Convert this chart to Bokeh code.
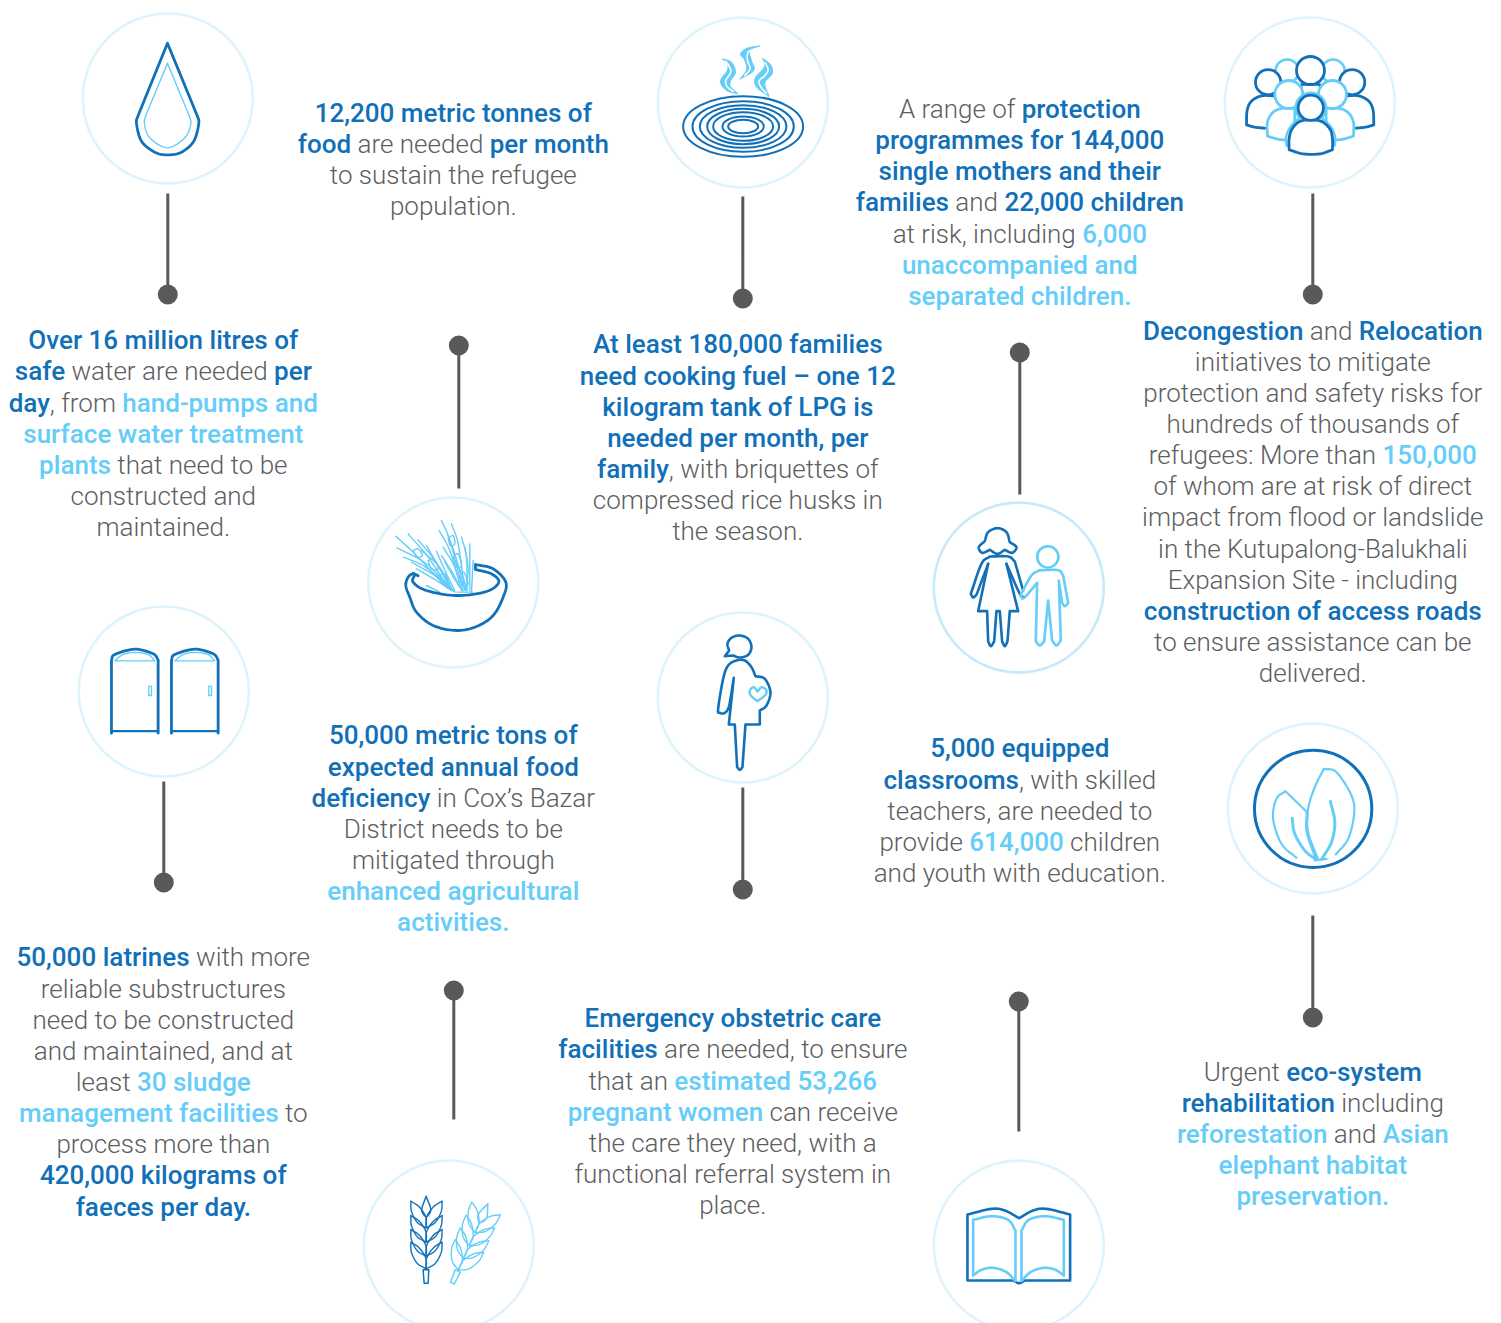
import numpy as np
from PIL import ImageFont
from bokeh.plotting import figure
from bokeh.models import ColumnDataSource
from bokeh.core.properties import value
from bokeh.embed import file_html
from bokeh.resources import INLINE

DARK = "#1170b8"
LIGHT = "#66cdf9"
GREY = "#5d5e60"
RING = "#dff3fd"
STEM = "#58595b"
FONT_DIR = "/usr/share/fonts/truetype/roboto/unhinted/RobotoTTF/"
FONT_SIZE = 26

# ---- texts: each line is a list of (text, style): d dark, l light blue, g grey
water_text = [[("Over 16 million litres of", "d")],
    [("safe", "d"), (" water are needed ", "g"), ("per", "d")],
    [("day", "d"), (", from ", "g"), ("hand-pumps and", "l")],
    [("surface water treatment", "l")],
    [("plants", "l"), (" that need to be", "g")],
    [("constructed and", "g")], [("maintained.", "g")]]
food_text = [[("12,200 metric tonnes of", "d")],
    [("food", "d"), (" are needed ", "g"), ("per month", "d")],
    [("to sustain the refugee", "g")], [("population.", "g")]]
fuel_text = [[("At least 180,000 families", "d")], [("need cooking fuel – one 12", "d")],
    [("kilogram tank of LPG is", "d")], [("needed per month, per", "d")],
    [("family", "d"), (", with briquettes of", "g")],
    [("compressed rice husks in", "g")], [("the season.", "g")]]
protect_text = [[("A range of ", "g"), ("protection", "d")], [("programmes for 144,000", "d")],
    [("single mothers and their", "d")],
    [("families", "d"), (" and ", "g"), ("22,000 children", "d")],
    [("at risk, including ", "g"), ("6,000", "l")],
    [("unaccompanied and", "l")], [("separated children.", "l")]]
decongest_text = [[("Decongestion", "d"), (" and ", "g"), ("Relocation", "d")],
    [("initiatives to mitigate", "g")], [("protection and safety risks for", "g")],
    [("hundreds of thousands of", "g")],
    [("refugees: More than ", "g"), ("150,000", "l")],
    [("of whom are at risk of direct", "g")], [("impact from flood or landslide", "g")],
    [("in the Kutupalong-Balukhali", "g")], [("Expansion Site - including", "g")],
    [("construction of access roads", "d")], [("to ensure assistance can be", "g")],
    [("delivered.", "g")]]
agri_text = [[("50,000 metric tons of", "d")], [("expected annual food", "d")],
    [("deficiency", "d"), (" in Cox’s Bazar", "g")], [("District needs to be", "g")],
    [("mitigated through", "g")], [("enhanced agricultural", "l")], [("activities.", "l")]]
school_text = [[("5,000 equipped", "d")],
    [("classrooms", "d"), (", with skilled", "g")], [("teachers, are needed to", "g")],
    [("provide ", "g"), ("614,000", "l"), (" children", "g")],
    [("and youth with education.", "g")]]
latrine_text = [[("50,000 latrines", "d"), (" with more", "g")],
    [("reliable substructures", "g")], [("need to be constructed", "g")],
    [("and maintained, and at", "g")],
    [("least ", "g"), ("30 sludge", "l")],
    [("management facilities", "l"), (" to", "g")], [("process more than", "g")],
    [("420,000 kilograms of", "d")], [("faeces per day.", "d")]]
care_text = [[("Emergency obstetric care", "d")],
    [("facilities", "d"), (" are needed, to ensure", "g")],
    [("that an ", "g"), ("estimated 53,266", "l")],
    [("pregnant women", "l"), (" can receive", "g")],
    [("the care they need, with a", "g")], [("functional referral system in", "g")],
    [("place.", "g")]]
eco_text = [[("Urgent ", "g"), ("eco-system", "d")],
    [("rehabilitation", "d"), (" including", "g")],
    [("reforestation", "l"), (" and ", "g"), ("Asian", "l")],
    [("elephant habitat", "l")], [("preservation.", "l")]]

# block: text, centre x, line rows
blocks = [(water_text, 163.5, [340, 371, 403, 434, 465, 496, 527]),
          (food_text, 453.5, [113, 144, 175, 206]),
          (fuel_text, 738, [344, 376, 407, 438, 469, 500, 531]),
          (protect_text, 1020, [109, 140, 171, 202, 234, 265, 296]),
          (decongest_text, 1313, [331, 362, 393, 424, 455, 486, 517, 549, 580, 611, 642, 673]),
          (agri_text, 453.5, [735, 767, 798, 829, 860, 891, 922]),
          (school_text, 1020, [748, 780, 811, 842, 873]),
          (latrine_text, 163.5, [957, 989, 1020, 1051, 1082, 1113, 1144, 1175, 1207]),
          (care_text, 733, [1018, 1049, 1081, 1112, 1143, 1174, 1205]),
          (eco_text, 1313, [1072, 1103, 1134, 1165, 1196])]

rings = [(168, 98), (743, 102), (1310, 102), (453.5, 582), (1019, 587),
         (164, 691), (743, 697), (1313, 808), (449, 1245), (1019, 1245)]
# connector: x, y of the dot, y of the free end
stems = [(168, 294, 193), (743, 298, 196), (1313, 294, 193), (459, 345, 488),
         (1020, 352, 494), (164, 882, 781), (743, 889, 787), (1313, 1017, 915),
         (454, 990, 1119), (1019, 1001, 1131)]

p = figure(width=1501, height=1323, x_range=(0.7, 1501.7), y_range=(1323, 0),
           x_axis_location=None, y_axis_location=None, toolbar_location=None,
           output_backend="svg", min_border=0, outline_line_color=None,
           background_fill_color="white", border_fill_color="white")
p.grid.visible = False

# ---- helpers
def spline(pts, n=10):
    pts = np.asarray(pts, float)
    if len(pts) < 3:
        return pts
    q = np.vstack([2 * pts[0] - pts[1], pts, 2 * pts[-1] - pts[-2]])
    out = []
    for i in range(1, len(q) - 2):
        for t in np.linspace(0, 1, n, endpoint=False):
            a, b, c, d = q[i - 1], q[i], q[i + 1], q[i + 2]
            out.append(0.5 * (2 * b + (c - a) * t + (2 * a - 5 * b + 4 * c - d) * t * t
                              + (3 * b - a - 3 * c + d) * t ** 3))
    out.append(pts[-1])
    return np.array(out)

def path(sections):
    return np.vstack([spline(s) for s in sections])

def draw(sections, org, color, w, fill=None, close=False):
    xy = path(sections)
    x = org[0] + xy[:, 0] / 3
    y = org[1] + xy[:, 1] / 3
    if fill:
        p.patch(x, y, fill_color=fill, line_color=color, line_width=w, line_join="round")
    else:
        if close:
            x, y = np.r_[x, x[0]], np.r_[y, y[0]]
        p.line(x, y, line_color=color, line_width=w, line_join="round", line_cap="round")

def circ(c, r, org, color, w, fill=None):
    p.circle([org[0] + c[0] / 3], [org[1] + c[1] / 3], radius=r / 3, line_color=color,
             line_width=w, fill_color=fill)

# ---- rings and connectors
for cx, cy in rings:
    col = "#c4eafb" if (cx, cy) == (1019, 587) else RING
    p.circle([cx], [cy], radius=85, fill_color=None, line_color=col, line_width=2.6)
for x, yd, ye in stems:
    p.line([x, x], [yd, ye], line_color=STEM, line_width=3)
    p.scatter([x], [yd], size=20, marker="circle", fill_color=STEM, line_color=None)

# ---- water drop
o = (70, 0)
draw([[(293, 128), (205, 345)], [(205, 345), (200, 368), (215, 422), (255, 455), (293, 463),
      (335, 455), (372, 422), (387, 368), (382, 345)], [(382, 345), (293, 128)]], o, DARK, 2.8)
draw([[(293, 188), (228, 345)], [(228, 345), (224, 370), (240, 412), (293, 442), (345, 412),
      (363, 370), (358, 345)], [(358, 345), (293, 188)]], o, LIGHT, 1.4)

# ---- cooking
o = (650, 10)
for rx, ry in [(180, 91), (152, 76), (130, 64), (108, 53), (90, 43), (62, 30), (45, 20)]:
    p.ellipse([o[0] + 280 / 3], [o[1] + 348 / 3], width=2 * rx / 3, height=2 * ry / 3,
              fill_color=None, line_color=DARK, line_width=2)
draw([[(217, 145), (245, 155), (257, 185), (243, 210), (242, 228), (265, 250)],
      [(265, 250), (230, 240), (212, 212), (232, 180), (233, 160), (217, 145)]], o, LIGHT, 1, fill=LIGHT)
draw([[(227, 152), (237, 165), (243, 185), (228, 210), (232, 228), (250, 243)]], o, "white", 1.6)
draw([[(330, 106), (300, 120), (305, 150), (312, 180), (270, 206)],
      [(270, 206), (290, 178), (285, 150), (272, 130), (292, 113), (330, 106)]], o, LIGHT, 1, fill=LIGHT)
draw([[(318, 114), (295, 125), (293, 150), (301, 175), (285, 195)]], o, "white", 1.6)
draw([[(338, 143), (362, 162), (367, 190), (345, 218), (358, 258)],
      [(358, 258), (322, 232), (315, 205), (340, 175), (345, 160), (338, 143)]], o, LIGHT, 1, fill=LIGHT)
draw([[(346, 156), (355, 178), (345, 195), (328, 212), (335, 232), (350, 248)]], o, "white", 1.6)

# ---- crowd
o = (1220, 10)
circ((202, 182), 35, o, LIGHT, 2.6, "white")
circ((340, 182), 35, o, LIGHT, 2.6, "white")
draw([[(245, 222), (300, 222)], [(300, 222), (305, 270)], [(305, 270), (240, 270)], [(240, 270), (245, 222)]], o, DARK, 2.4, fill="white")
circ((272, 180), 42, o, DARK, 2.8, "white")
def body(pts, col, w):
    draw(pts, o, col, w, fill="white")
body([[(80, 343), (82, 300), (95, 272), (125, 256), (165, 256)], [(165, 256), (250, 256)], [(250, 256), (250, 355)], [(250, 355), (135, 353)], [(135, 353), (105, 350), (80, 343)]], DARK, 2.8)
body([[(462, 343), (460, 300), (447, 272), (417, 256), (377, 256)], [(377, 256), (300, 256)], [(300, 256), (300, 355)], [(300, 355), (407, 353)], [(407, 353), (437, 350), (462, 343)]], DARK, 2.8)
circ((145, 215), 38, o, DARK, 2.8, "white")
circ((397, 215), 38, o, DARK, 2.8, "white")
body([[(143, 377), (143, 335), (160, 305), (190, 293), (225, 293)], [(225, 293), (225, 390)], [(225, 390), (180, 387), (143, 377)]], LIGHT, 2.8)
body([[(401, 377), (401, 335), (384, 305), (354, 293), (319, 293)], [(319, 293), (319, 390)], [(319, 390), (364, 387), (401, 377)]], LIGHT, 2.8)
circ((207, 252), 42, o, LIGHT, 2.8, "white")
circ((338, 252), 42, o, LIGHT, 2.8, "white")
circ((273, 292), 45, o, LIGHT, 2.6, "white")
body([[(200, 405), (200, 375), (215, 345), (245, 322), (300, 322), (330, 345), (345, 375), (345, 405)], [(345, 405), (200, 405)]], LIGHT, 2.4)
body([[(208, 418), (208, 385), (217, 355), (245, 331), (300, 331), (330, 355), (338, 385), (338, 418)], [(338, 418), (300, 430), (250, 430), (208, 418)]], DARK, 2.8)
circ((273, 292), 38, o, DARK, 2.8, "white")

# ---- wheat in bowl
o = (360, 490)
wheat_left = [[(108, 137), (165, 190), (250, 280), (285, 305)], [(145, 130), (205, 200), (265, 290)],
    [(175, 148), (225, 210), (275, 300)], [(112, 172), (200, 220), (280, 300)], [(130, 200), (190, 225), (255, 275)],
    [(155, 215), (225, 255), (270, 295)], [(200, 165), (240, 235), (280, 300)], [(230, 182), (260, 250), (285, 300)],
    [(200, 285), (240, 305)], [(160, 180), (175, 175), (188, 195), (172, 200), (160, 180)],
    [(205, 210), (222, 205), (235, 235), (215, 235), (205, 210)], [(240, 255), (255, 250), (265, 275), (250, 275), (240, 255)],
    [(170, 235), (230, 270), (275, 300)], [(185, 180), (235, 225), (270, 280)]]
wheat_right = [[(245, 90), (270, 150), (310, 300)], [(275, 100), (295, 160), (315, 300)], [(305, 140), (320, 200), (322, 300)],
    [(330, 160), (330, 300)], [(340, 210), (335, 305)], [(238, 120), (270, 180), (300, 280)], [(250, 170), (285, 230), (305, 300)],
    [(255, 215), (290, 275), (310, 300)], [(292, 305), (338, 305)], [(265, 145), (280, 135), (285, 160), (272, 165), (265, 145)],
    [(280, 200), (295, 190), (305, 225), (290, 230), (280, 200)], [(300, 255), (312, 245), (325, 280), (310, 285), (300, 255)],
    [(262, 130), (285, 190), (312, 290)], [(245, 195), (280, 250), (300, 290)], [(315, 170), (325, 235), (318, 300)],
    [(290, 215), (310, 260), (320, 300)]]
for s in wheat_left + wheat_right:
    draw([s], o, LIGHT, 1.4)
draw([[(165, 252), (160, 275), (200, 300), (290, 315), (380, 303), (417, 275), (395, 250), (347, 237)], [(347, 237), (347, 222)],
      [(347, 222), (400, 235), (438, 275), (430, 320), (400, 375), (350, 408), (290, 420), (220, 405), (170, 365), (150, 320), (138, 285), (145, 260), (160, 248)], [(160, 248), (175, 256)]], o, DARK, 2.8)

# ---- woman and child
o = (925, 495)
draw([[(180, 137), (190, 110), (218, 98), (245, 110), (255, 140)], [(255, 140), (275, 155), (262, 172), (240, 163)],
      [(240, 163), (218, 175), (195, 163)], [(195, 163), (172, 172), (162, 155), (180, 137)]], o, DARK, 2.6)
draw([[(190, 205), (160, 347)], [(160, 347), (187, 347)], [(187, 347), (190, 438)], [(190, 438), (198, 452), (208, 438)], [(208, 438), (215, 347)], [(215, 347), (225, 347)],
      [(225, 347), (232, 438)], [(232, 438), (240, 452), (248, 438)], [(248, 438), (255, 347)], [(255, 347), (280, 347)], [(280, 347), (245, 205)]], o, DARK, 2.6)
draw([[(190, 205), (155, 298)], [(155, 298), (145, 306), (138, 295)], [(138, 295), (170, 205), (195, 183)], [(195, 183), (250, 183), (270, 198)], [(270, 198), (295, 285)]], o, DARK, 2.6)
draw([[(245, 205), (285, 295), (298, 305)]], o, DARK, 2.6)
circ((369, 184), 32, o, LIGHT, 2.6)
draw([[(290, 293), (320, 240), (345, 224)], [(345, 224), (400, 224), (415, 240)], [(415, 240), (430, 322)], [(430, 322), (420, 332), (412, 322)], [(412, 322), (402, 255)],
      [(402, 255), (408, 435)], [(408, 435), (395, 450), (382, 435)], [(382, 435), (370, 315)], [(370, 315), (358, 438)], [(358, 438), (345, 450), (333, 438)], [(333, 438), (337, 262)], [(337, 262), (298, 307), (288, 300), (290, 293)]], o, LIGHT, 2.6)

# ---- latrines
o = (70, 600)
for dx in (0, 180):
    draw([[(125 + dx, 398), (125 + dx, 178)], [(125 + dx, 178), (135 + dx, 162), (195 + dx, 146), (250 + dx, 160), (265 + dx, 178)], [(265 + dx, 178), (265 + dx, 398)]], o, DARK, 2.8)
    draw([[(125 + dx, 392), (265 + dx, 392)]], o, DARK, 2.2)
    draw([[(135 + dx, 181), (160 + dx, 162), (195 + dx, 156), (235 + dx, 162), (255 + dx, 181)], [(255 + dx, 181), (135 + dx, 181)]], o, LIGHT, 1.4)
    draw([[(237 + dx, 257), (245 + dx, 257)], [(245 + dx, 257), (245 + dx, 285)], [(245 + dx, 285), (237 + dx, 285)], [(237 + dx, 285), (237 + dx, 257)]], o, LIGHT, 1.3)

# ---- pregnant woman
o = (650, 605)
draw([[(225, 152), (238, 135)], [(238, 135), (233, 115), (245, 97), (270, 90), (295, 100), (305, 125), (295, 148), (270, 156), (250, 150)], [(250, 150), (225, 152)]], o, DARK, 2.6)
draw([[(252, 217), (238, 300), (225, 322), (210, 322), (205, 310), (220, 220), (235, 180), (260, 165), (285, 165), (305, 185), (317, 212)],
      [(317, 212), (345, 220), (362, 260), (350, 300), (330, 315)], [(330, 315), (330, 357)], [(330, 357), (287, 357)], [(287, 357), (278, 485)],
      [(278, 485), (270, 493), (262, 485)], [(262, 485), (255, 357)], [(255, 357), (237, 357)], [(237, 357), (252, 217)]], o, DARK, 2.6)
draw([[(323, 258), (312, 245), (300, 255), (303, 270), (323, 287)], [(323, 287), (345, 270), (350, 255), (336, 245), (323, 258)]], o, LIGHT, 2.4)

# ---- leaves
o = (1220, 715)
circ((280, 280), 176, o, DARK, 3)
draw([[(230, 427), (185, 385), (160, 310), (170, 250), (197, 227)], [(197, 227), (262, 290)]], o, LIGHT, 2.2)
draw([[(295, 432), (265, 350), (265, 280), (285, 215), (312, 160)], [(312, 160), (350, 170), (395, 240), (403, 295), (385, 370), (348, 417)]], o, LIGHT, 2.2)
draw([[(217, 308), (225, 355), (255, 405), (290, 433)]], o, LIGHT, 3)
draw([[(332, 258), (345, 320), (335, 380), (305, 432)]], o, LIGHT, 3)
draw([[(262, 290), (262, 350), (290, 433)]], o, LIGHT, 3)
draw([[(285, 434), (320, 430)]], o, LIGHT, 2.4)

# ---- wheat pair
o = (355, 1150)
def grain(base, tip, w):
    base, tip = np.array(base, float), np.array(tip, float)
    d = tip - base
    n = np.array([-d[1], d[0]]) / np.hypot(*d)
    a = [base, base + .3 * d + n * w, base + .7 * d + n * w * .9, tip]
    b = [tip, base + .7 * d - n * w * .9, base + .3 * d - n * w, base]
    return [[tuple(q) for q in a], [tuple(q) for q in b]]
def spike(tr, col):
    T = tr
    draw([[T((214, 137)), T((228, 178)), T((214, 198)), T((201, 178)), T((214, 137))]], o, col, 1.5)
    draw([[T((205, 358)), T((222, 358))], [T((222, 358)), T((220, 398))], [T((220, 398)), T((208, 398))], [T((208, 398)), T((205, 358))]], o, col, 1.5)
    for y in (232, 275, 317, 355):
        draw(grain(T((214, y)), T((168, y - 80)), 15), o, col, 1.4)
        draw(grain(T((214, y)), T((262, y - 80)), 15), o, col, 1.4)
spike(lambda q: q, DARK)
ang = np.radians(24)
def rot(q):
    x, y = q[0] - 214, q[1] - 398
    return (x * np.cos(ang) - y * np.sin(ang) + 293, x * np.sin(ang) + y * np.cos(ang) + 398)
spike(rot, LIGHT)

# ---- book
o = (925, 1150)
draw([[(128, 390), (128, 192)], [(128, 192), (200, 175), (240, 180), (283, 203)], [(283, 203), (325, 180), (365, 175), (436, 192)], [(436, 192), (436, 390)], [(436, 390), (300, 390)], [(300, 390), (283, 398), (265, 390)], [(265, 390), (128, 390)]], o, DARK, 2.6)
for f in (lambda x: x, lambda x: 562 - x):
    draw([[(f(145), 375), (f(145), 208)], [(f(145), 208), (f(200), 197), (f(250), 208), (f(272), 240)], [(f(272), 240), (f(272), 392)], [(f(272), 392), (f(245), 365), (f(205), 352), (f(170), 358), (f(145), 375)]], o, LIGHT, 2.6)

# ---- texts
FACES = {"d": ("Roboto Medium", "Roboto-Medium.ttf", DARK),
         "l": ("Roboto Medium", "Roboto-Medium.ttf", LIGHT),
         "g": ("Roboto Light", "Roboto-Light.ttf", GREY)}
meas = {k: ImageFont.truetype(FONT_DIR + v[1], 200) for k, v in FACES.items()}
def width(t, k):
    return meas[k].getlength(t) * FONT_SIZE / 200

runs = {k: dict(x=[], y=[], text=[]) for k in FACES}
for lines, cx, rows in blocks:
    for line, row in zip(lines, rows):
        total = sum(width(t, k) for t, k in line)
        x = cx - total / 2
        for t, k in line:
            lead = len(t) - len(t.lstrip(" "))
            runs[k]["x"].append(x + width(" " * lead, k))
            runs[k]["y"].append(row - 1)
            runs[k]["text"].append(t.strip(" "))
            x += width(t, k)
for k, (fam, _, col) in FACES.items():
    p.text("x", "y", text="text", source=ColumnDataSource(runs[k]), text_font=value(fam),
           text_font_size=f"{FONT_SIZE}px", text_color=col, text_align="left",
           text_baseline="alphabetic")

open("out.html", "w").write(file_html(p, INLINE))
